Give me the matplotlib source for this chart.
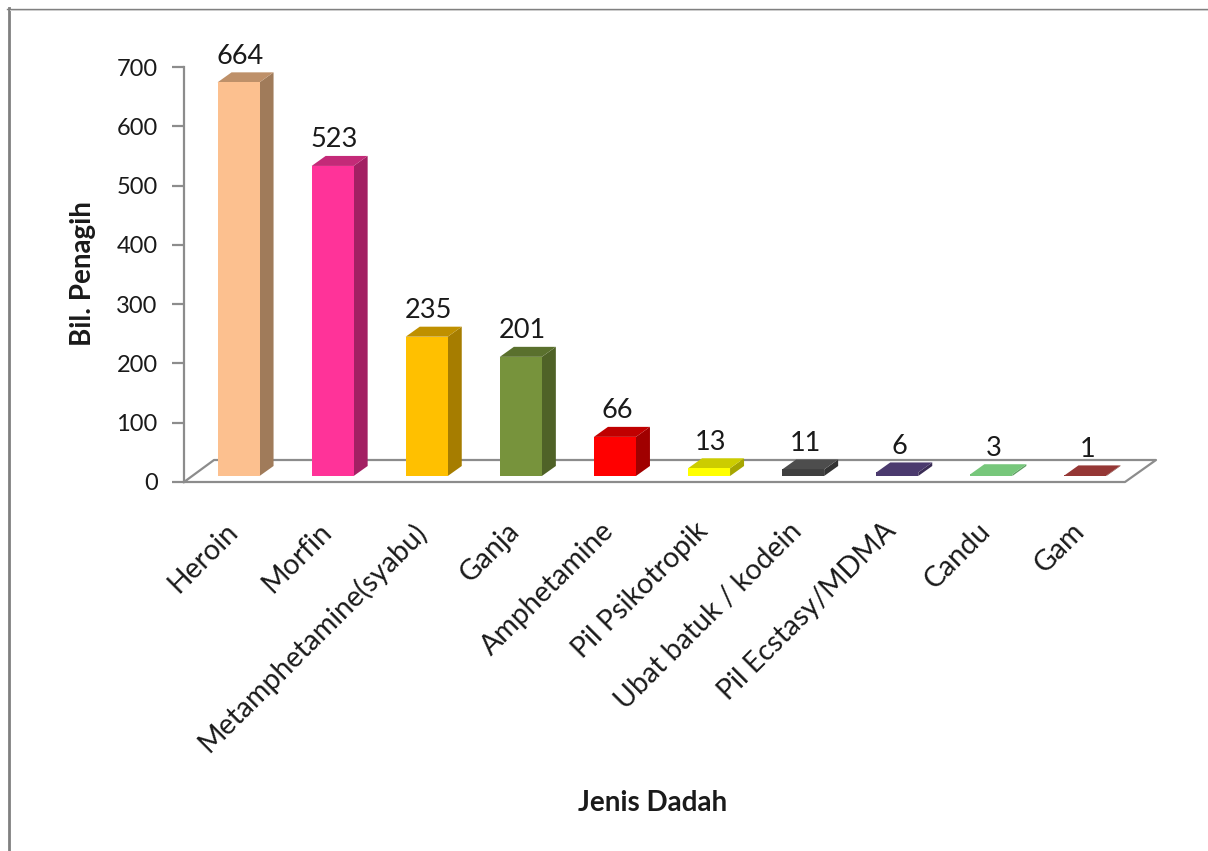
import matplotlib
matplotlib.use('Agg')
import matplotlib.pyplot as plt

jenis = ['Heroin', 'Morfin', 'Metamphetamine(syabu)', 'Ganja', 'Amphetamine',
         'Pil Psikotropik', 'Ubat batuk / kodein', 'Pil Ecstasy/MDMA', 'Candu', 'Gam']
bilangan = [664, 523, 235, 201, 66, 13, 11, 6, 3, 1]
warna = ['#FCC08F', '#FF3399', '#FFC000', '#77933C', '#FF0000',
         '#FFFF00', '#404040', '#4B3A6E', '#77C77B', '#953735']
warna_atas = ['#BE9069', '#C42A78', '#BF9000', '#5A702D', '#C00000',
              '#CCCC00', '#4D4D4D', '#4B3A6E', '#77C77B', '#953735']
warna_sisi = ['#A07B5A', '#A32063', '#A67D00', '#4F6227', '#A00000',
              '#A6A600', '#333333', '#3A2C55', '#5FA063', '#703029']
y_ticks = [0, 100, 200, 300, 400, 500, 600, 700]

W, H = 1208, 851
plt.rcParams['font.family'] = ['Lato', 'DejaVu Sans']

fig = plt.figure(figsize=(W / 100, H / 100), dpi=100)

# axes box in pixels: x 184..1125, y 482 (0) .. 67 (700)
ax = fig.add_axes([184 / W, 1 - 482 / H, (1125 - 184) / W, (482 - 67) / H])
ax.set_xlim(-0.5, 9.5)
ax.set_ylim(0, 700)
ax.patch.set_alpha(0)

px_x = 10 / 941
px_y = 700 / 415
abu = '#8C8C8C'

# floor of the 3d chart
lantai_x = [-0.5, -0.5 + 30 * px_x, 9.5 + 31 * px_x, 9.5, -0.5]
lantai_y = [0, 22 * px_y, 22 * px_y, 0, 0]
ax.plot(lantai_x, lantai_y, color=abu, lw=1.6, clip_on=False, zorder=1)

lebar = 42 * px_x
gesel_x, gesel_y = 7.5 * px_x, 6 * px_y
dalam_x, dalam_y = 14 * px_x, 10 * px_y

for i, (nilai, c, c_atas, c_sisi) in enumerate(zip(bilangan, warna, warna_atas, warna_sisi)):
    x0 = i - lebar / 2 + gesel_x
    x1 = x0 + lebar
    y0 = gesel_y
    y1 = y0 + nilai
    ax.fill([x1, x1 + dalam_x, x1 + dalam_x, x1], [y0, y0 + dalam_y, y1 + dalam_y, y1],
            color=c_sisi, lw=0, clip_on=False, zorder=3)
    ax.fill([x0, x1, x1 + dalam_x, x0 + dalam_x], [y1, y1, y1 + dalam_y, y1 + dalam_y],
            color=c_atas, lw=0, clip_on=False, zorder=3)
    ax.fill([x0, x1, x1, x0], [y0, y0, y1, y1], color=c, lw=0, clip_on=False, zorder=4)
    ax.text(i + gesel_x + 0.02, y1 + dalam_y + 6, str(nilai), ha='center', va='bottom',
            fontsize=19.5, color='#1a1a1a', clip_on=False, zorder=5)

for s in ['top', 'right', 'bottom']:
    ax.spines[s].set_visible(False)
ax.spines['left'].set_color(abu)
ax.spines['left'].set_linewidth(1.6)

ax.set_yticks(y_ticks)
ax.tick_params(axis='y', length=9, width=1.6, color=abu, labelsize=17, labelcolor='#1a1a1a', pad=10)
ax.set_xticks(range(len(jenis)))
ax.set_xticklabels([])
ax.tick_params(axis='x', length=0)

# rotated category labels end just under each bar
for i, nama in enumerate(jenis):
    ax.annotate(nama, xy=(i, 0), xycoords='data', xytext=(-7, -36), textcoords='offset pixels',
                rotation=45, rotation_mode='anchor', ha='right', va='top',
                fontsize=20.5, color='#1a1a1a')

fig.text(83 / W, 1 - 274 / H, 'Bil. Penagih', rotation=90, ha='center', va='center',
         fontsize=20, fontweight='bold', color='#1a1a1a')
fig.text(653 / W, 1 - 803 / H, 'Jenis Dadah', ha='center', va='center',
         fontsize=20, fontweight='bold', color='#1a1a1a')

# border of the pasted picture
fig.add_artist(plt.Line2D([8.5 / W, 8.5 / W], [0, 1 - 8 / H], color='#808080', lw=2))
fig.add_artist(plt.Line2D([7.5 / W, 1], [1 - 8.5 / H, 1 - 8.5 / H], color='#808080', lw=1))
fig.add_artist(plt.Line2D([10 / W, 1], [1 - 9.7 / H, 1 - 9.7 / H], color='#CCCCCC', lw=0.7))

fig.savefig('out.png', dpi=100)
